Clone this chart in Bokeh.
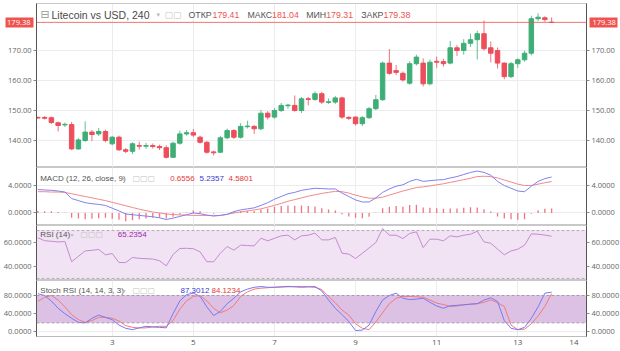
from bokeh.plotting import figure
from bokeh.layouts import column
from bokeh.models import (LinearAxis, FixedTicker, PrintfTickFormatter, Span, Label,
                          BoxAnnotation, ColumnDataSource, Range1d)
from bokeh.embed import file_html
from bokeh.resources import INLINE

# ---------------- data (4h candles, LTC/USD) ----------------
opens = [147.7, 147.7, 147.6, 145.9, 145.2, 145.3, 137.2, 140.0, 142.8, 142.2,
         143.0, 138.9, 141.1, 136.9, 136.4, 138.3, 138.1, 138.3, 138.0, 137.6,
         134.4, 139.1, 142.2, 142.6, 141.1, 139.4, 136.2, 136.1, 140.9, 143.3,
         141.1, 144.6, 144.7, 143.9, 149.1, 147.8, 150.0, 151.6, 151.7, 150.0,
         153.9, 153.7, 155.6, 152.7, 152.8, 154.2, 147.7, 147.8, 145.6, 147.6,
         150.6, 153.6, 165.8, 163.3, 162.4, 159.1, 165.6, 165.8, 158.9, 166.4,
         166.3, 165.8, 170.9, 170.0, 172.4, 173.6, 175.6, 170.9, 170.0, 165.8,
         161.3, 165.6, 166.9, 169.1, 180.6, 180.9, 179.41]
closes = [147.5, 147.4, 146.0, 145.0, 145.4, 137.2, 140.2, 142.8, 142.0, 143.0,
          140.0, 141.1, 136.9, 136.4, 138.9, 138.1, 138.3, 138.0, 137.6, 134.4,
          139.1, 142.2, 142.6, 141.8, 139.4, 136.1, 135.9, 140.9, 143.3, 141.1,
          144.7, 144.8, 143.9, 149.1, 147.8, 150.0, 151.7, 151.8, 150.0, 153.9,
          153.7, 155.6, 152.8, 152.9, 154.2, 147.8, 147.4, 145.6, 147.6, 150.6,
          153.6, 165.8, 162.4, 162.7, 160.2, 165.6, 167.8, 158.9, 166.1, 166.1,
          165.6, 170.9, 170.0, 172.4, 173.6, 175.6, 170.6, 169.1, 165.8, 161.3,
          165.6, 166.9, 169.1, 180.6, 181.1, 180.3, 179.38]
highs = [148.0, 148.1, 148.0, 146.3, 146.0, 146.2, 140.8, 146.4, 143.5, 144.2,
         143.6, 141.5, 141.6, 137.5, 139.4, 139.6, 139.2, 139.0, 138.6, 138.4,
         139.6, 143.3, 143.5, 143.8, 141.6, 139.8, 136.6, 141.5, 144.0, 143.8,
         145.8, 146.6, 145.2, 150.2, 149.8, 150.8, 152.5, 152.2, 155.0, 154.5,
         154.5, 156.4, 156.2, 154.0, 154.8, 154.6, 148.1, 148.0, 148.2, 151.2,
         155.2, 166.3, 170.5, 165.2, 163.0, 166.4, 168.6, 167.4, 167.0, 168.0,
         167.2, 173.2, 171.8, 173.8, 175.6, 176.6, 180.0, 173.0, 171.0, 166.0,
         166.2, 167.4, 170.0, 181.6, 182.4, 181.4, 181.04]
lows = [147.2, 147.0, 145.5, 143.0, 144.5, 136.8, 136.9, 139.5, 139.8, 141.5,
        139.4, 138.4, 136.5, 135.8, 135.5, 137.0, 137.2, 137.3, 136.8, 134.0,
        134.2, 138.6, 141.6, 141.2, 139.0, 135.6, 135.0, 135.8, 140.4, 140.5,
        140.6, 144.0, 142.2, 143.5, 147.0, 147.3, 149.5, 150.6, 149.6, 149.2,
        151.7, 153.2, 152.2, 152.2, 152.2, 147.2, 146.8, 145.0, 144.8, 147.2,
        150.1, 153.2, 161.9, 161.8, 159.6, 158.6, 165.0, 158.0, 158.4, 164.2,
        164.6, 165.4, 168.2, 168.6, 171.2, 167.0, 170.0, 166.0, 164.0, 160.4,
        160.8, 164.2, 166.3, 168.4, 179.8, 179.6, 179.31]

macd = [3.4, 3.35, 3.3, 3.2, 3.05, 2.1, 1.8, 1.5, 1.35, 1.25,
        1.1, 0.7, 0.3, -0.15, -0.25, -0.35, -0.45, -0.55, -0.7, -0.95,
        -0.75, -0.5, -0.25, 0.0, -0.1, -0.3, -0.45, -0.35, -0.2, 0.2,
        0.45, 0.6, 0.75, 1.1, 1.5, 2.0, 2.4, 2.8, 3.0, 3.3,
        3.45, 3.6, 3.55, 3.5, 3.5, 2.9, 2.4, 1.9, 1.6, 1.6,
        2.2, 3.0, 3.5, 3.9, 4.1, 4.6, 4.9, 4.6, 4.7, 4.8,
        4.85, 5.1, 5.3, 5.6, 5.9, 6.1, 5.9, 5.5, 4.6, 4.0,
        3.6, 3.2, 3.1, 3.9, 4.6, 5.0, 5.2357]
signal = [3.1, 3.1, 3.05, 3.05, 3.0, 2.8, 2.6, 2.4, 2.2, 2.0,
          1.8, 1.55, 1.3, 1.05, 0.8, 0.55, 0.35, 0.15, 0.0, -0.15,
          -0.22, -0.28, -0.32, -0.35, -0.35, -0.35, -0.36, -0.35, -0.2, 0.0,
          0.15, 0.3, 0.45, 0.6, 0.85, 1.1, 1.4, 1.7, 1.95, 2.2,
          2.45, 2.65, 2.85, 3.0, 3.15, 3.1, 2.9, 2.6, 2.35, 2.15,
          2.15, 2.3, 2.6, 2.9, 3.2, 3.45, 3.7, 3.8, 3.95, 4.1,
          4.25, 4.45, 4.65, 4.85, 5.05, 5.3, 5.35, 5.3, 5.1, 4.8,
          4.5, 4.2, 4.0, 4.0, 4.2, 4.4, 4.5801]
hist = [0.3, 0.25, 0.25, 0.15, 0.05, -0.7, -0.8, -0.9, -0.85, -0.75,
        -0.7, -0.85, -1.0, -1.2, -1.05, -0.9, -0.8, -0.7, -0.7, -0.8,
        -0.55, -0.22, 0.07, 0.35, 0.25, 0.05, -0.1, 0.0, 0.0, 0.2,
        0.3, 0.3, 0.3, 0.5, 0.65, 0.9, 1.0, 1.1, 1.05, 1.1,
        1.0, 0.95, 0.7, 0.5, 0.35, -0.2, -0.5, -0.7, -0.75, -0.55,
        0.05, 0.7, 0.9, 1.0, 0.9, 1.15, 1.2, 0.8, 0.75, 0.7,
        0.6, 0.65, 0.65, 0.75, 0.85, 0.8, 0.55, 0.2, -0.5, -0.8,
        -0.9, -1.0, -0.9, -0.1, 0.4, 0.6, 0.6556]
rsi = [64.0, 61.5, 61.0, 60.5, 60.8, 44.0, 48.5, 53.0, 53.5, 54.2,
       49.7, 50.8, 43.3, 43.3, 47.5, 46.8, 46.5, 46.2, 44.8, 40.5,
       50.0, 55.0, 55.2, 54.8, 52.2, 44.0, 43.9, 51.0, 56.7, 53.6,
       57.8, 57.5, 57.2, 63.6, 61.4, 63.5, 65.6, 66.1, 62.2, 65.6,
       66.1, 67.8, 62.2, 62.2, 64.2, 51.1, 50.3, 46.7, 51.0, 55.5,
       60.0, 71.7, 66.1, 66.1, 63.3, 67.5, 68.9, 55.8, 62.8, 62.8,
       61.4, 65.6, 64.7, 66.1, 66.9, 69.4, 60.5, 59.4, 54.5, 49.7,
       53.0, 54.4, 57.8, 67.2, 66.9, 66.2, 65.2354]
stoch_k = [84, 80, 68, 52, 40, 30, 21, 20, 30, 37,
           32, 27, 15, 8, 5, 9, 12.4, 11, 10, 9,
           40, 68, 82, 85, 78, 55, 36, 45, 62, 74,
           88, 94, 98, 99.6, 98, 98, 99, 100, 99, 98,
           99, 99.6, 90, 70, 52, 38, 23, 3, 4, 15,
           45, 70, 80, 85, 74, 71, 72, 74, 65, 57,
           52, 57.5, 58.5, 59.6, 61, 62, 70, 75, 67, 25,
           8, 5, 10, 30, 55, 85, 87.3012]
stoch_d = [67, 76, 80, 70, 55, 38, 27, 21, 25, 32,
           32, 30, 24, 14, 10, 8.7, 9, 11, 12.4, 12.4,
           25, 50, 68, 78, 80, 68, 52, 42, 48, 58,
           78, 88, 94, 96, 97, 98, 98.5, 99, 99.5, 99.6,
           99.2, 98, 93, 78, 64, 48, 37, 18, 8, 5,
           22, 42, 62, 74, 78, 77.8, 77, 76.4, 70, 63.3,
           60, 56, 57, 59.6, 61, 62, 65, 70.5, 64, 56,
           15, 5, 6, 18, 35, 56, 84.1234]

day_ticks = [11, 23, 35, 47, 59, 71, 79.3]
day_labels = ["3", "5", "7", "9", "11", "13", "14"]
grid_ticks = [11, 23, 35, 47, 59, 71]

last_price = 179.38

# ---------------- styling ----------------
FONT = "Open Sans"
HFONT = "Liberation Sans"
UP = "#3fae76"
DOWN = "#ec4e5c"
TAG = "#ef5350"
X0 = -0.2
PXU = 6.76          # pixels per candle
X1 = X0 + 550 / PXU
xr = Range1d(X0, X1)


def xd(px):
    """convert a pixel x position to the data x of the shared range"""
    return X0 + (px - 32) / PXU


def make_fig(frame_h, y0, y1, yticks, fmt, top=0, xaxis=False):
    p = figure(frame_width=550, frame_height=frame_h, x_range=xr,
               y_range=Range1d(y0, y1), output_backend="svg",
               toolbar_location=None,
               x_axis_location="below" if xaxis else None,
               y_axis_location="left",
               min_border_left=32, min_border_right=38,
               min_border_top=top, min_border_bottom=0)
    p.background_fill_color = "white"
    p.border_fill_color = "white"
    p.outline_line_color = "#c8c8c8"
    ra = LinearAxis()
    p.add_layout(ra, "right")
    for ax in p.yaxis:
        ax.ticker = FixedTicker(ticks=yticks)
        ax.formatter = PrintfTickFormatter(format=fmt)
        ax.major_label_text_font = FONT
        ax.major_label_text_font_size = "7.5px"
        ax.major_label_text_color = "#666666"
        ax.axis_line_color = "#555555"
        ax.major_tick_line_color = "#888888"
        ax.major_tick_out = 3
        ax.major_tick_in = 0
        ax.minor_tick_line_color = None
        ax.major_label_standoff = 2
    p.ygrid.ticker = FixedTicker(ticks=yticks)
    p.xgrid.ticker = FixedTicker(ticks=grid_ticks)
    p.xgrid.grid_line_color = "#ececec"
    p.ygrid.grid_line_color = "#ececec"
    if xaxis:
        xa = p.xaxis[0]
        xa.ticker = FixedTicker(ticks=day_ticks)
        xa.major_label_overrides = {t: l for t, l in zip(day_ticks, day_labels)}
        xa.major_label_text_font = FONT
        xa.major_label_text_font_size = "8px"
        xa.major_label_text_color = "#555555"
        xa.axis_line_color = "#bbbbbb"
        xa.major_tick_out = 0
        xa.major_tick_in = 0
        xa.minor_tick_line_color = None
        xa.major_label_standoff = 3
    return p


def lab(p, x, y, text, color, size="9px", font=HFONT, **kw):
    p.add_layout(Label(x=x, y=y, text=text, text_color=color, text_font=font,
                       text_font_size=size, text_baseline="middle",
                       text_align="left", **kw))


def price_tag_axis():
    """outer axis whose single tick is drawn inward as a red tag with white text"""
    ax = LinearAxis(ticker=FixedTicker(ticks=[last_price]),
                    formatter=PrintfTickFormatter(format="%.2f"))
    ax.axis_line_color = None
    ax.minor_tick_line_color = None
    ax.major_tick_out = 0
    ax.major_tick_in = 28
    ax.major_tick_line_width = 10
    ax.major_tick_line_color = TAG
    ax.major_tick_line_cap = "butt"
    ax.major_label_standoff = -25
    ax.major_label_text_color = "white"
    ax.major_label_text_font = FONT
    ax.major_label_text_font_size = "7.5px"
    return ax


# ---------------- main price pane ----------------
n = len(opens)
idx = list(range(n))
cols = [UP if c >= o else DOWN for o, c in zip(opens, closes)]
src = ColumnDataSource(dict(x=idx, o=opens, c=closes, h=highs, l=lows,
                            top=[max(o, c) for o, c in zip(opens, closes)],
                            bot=[min(o, c) for o, c in zip(opens, closes)],
                            col=cols))

main = make_fig(164, 131.0, 185.67, [140, 150, 160, 170], "%.2f", top=3)
main.add_layout(price_tag_axis(), "left")
main.add_layout(price_tag_axis(), "right")
main.segment(x0="x", y0="l", x1="x", y1="h", color="col", line_width=1,
             line_alpha=0.8, source=src)
main.vbar(x="x", top="top", bottom="bot", width=0.66, fill_color="col",
          line_color="col", line_width=1, source=src)
main.add_layout(Span(location=last_price, dimension="width", line_color=TAG,
                     line_width=1, line_alpha=0.8))

hy = 182.0
lab(main, xd(36), hy, "⊟", "#999999", size="11px", font="DejaVu Sans")
lab(main, xd(47), hy, "Litecoin vs USD, 240", "#4a4a4a", size="10.5px")
lab(main, xd(152), hy, "▾", "#bbbbbb", size="7px", font="DejaVu Sans")
lab(main, xd(160), hy, "▢▢", "#c4c4c4", size="9px", font="DejaVu Sans")
lab(main, xd(184), hy, "ОТКР", "#555555", size="8.8px")
lab(main, xd(208), hy, f"{opens[-1]:.2f}", TAG, size="8.8px")
lab(main, xd(243), hy, "МАКС", "#555555", size="8.8px")
lab(main, xd(267.5), hy, f"{highs[-1]:.2f}", TAG, size="8.8px")
lab(main, xd(301.7), hy, "МИН", "#555555", size="8.8px")
lab(main, xd(321.7), hy, f"{lows[-1]:.2f}", TAG, size="8.8px")
lab(main, xd(356.7), hy, "ЗАКР", "#555555", size="8.8px")
lab(main, xd(379), hy, f"{closes[-1]:.2f}", TAG, size="8.8px")

# ---------------- MACD pane ----------------
pm = make_fig(58, -1.82, 6.62, [0, 4], "%.4f")
pm.segment(x0=idx, y0=[0] * n, x1=idx, y1=hist, line_color="#f07482", line_width=1.3)
pm.line(idx, signal, line_color="#f08a8a", line_width=1)
pm.line(idx, macd, line_color="#8080f0", line_width=1)
my = 5.06
lab(pm, xd(35.7), my, "MACD (12, 26, close, 9)", "#555555", size="8px")
lab(pm, xd(118), my, "▾", "#bbbbbb", size="6px", font="DejaVu Sans")
lab(pm, xd(128), my, "▢▢▢", "#c4c4c4", size="8px", font="DejaVu Sans")
lab(pm, xd(165.7), my, f"{hist[-1]:.4f}", "#e53935", size="8px")
lab(pm, xd(195), my, f"{macd[-1]:.4f}", "#3a3ad0", size="8px")
lab(pm, xd(224), my, f"{signal[-1]:.4f}", "#e53935", size="8px")

# ---------------- RSI pane ----------------
pr = make_fig(55, 28.3, 74.2, [40, 60], "%.4f")
pr.add_layout(BoxAnnotation(bottom=30, top=70, fill_color="#f1e2f4", fill_alpha=1.0,
                            line_alpha=0, level="underlay"))
for lv in (70, 30):
    pr.add_layout(Span(location=lv, dimension="width", line_color="#b8a8bc",
                       line_dash="3 2", line_width=1))
pr.line(idx, rsi, line_color="#c48ccf", line_width=1)
ry = 66.9
lab(pr, xd(35.8), ry, "RSI (14)", "#555555", size="8px")
lab(pr, xd(66), ry, "▾", "#bbbbbb", size="6px", font="DejaVu Sans")
lab(pr, xd(76), ry, "▢▢▢", "#c4c4c4", size="8px", font="DejaVu Sans")
lab(pr, xd(113.3), ry, f"{rsi[-1]:.4f}", "#9c2aa8", size="8px")

# ---------------- Stoch RSI pane ----------------
ps = make_fig(56, -10.0, 112.9, [0, 40, 80], "%.4f", xaxis=True)
ps.add_layout(BoxAnnotation(bottom=20, top=80, fill_color="#dcc1e4", fill_alpha=1.0,
                            line_alpha=0, level="underlay"))
for lv in (80, 20):
    ps.add_layout(Span(location=lv, dimension="width", line_color="#a996ad",
                       line_dash="3 2", line_width=1))
ps.line(idx, stoch_d, line_color="#f07a7a", line_width=1)
ps.line(idx, stoch_k, line_color="#7878f2", line_width=1)
sy = 91.6
lab(ps, xd(35.8), sy, "Stoch RSI (14, 14, 3, 3)", "#555555", size="8px")
lab(ps, xd(118), sy, "▾", "#bbbbbb", size="6px", font="DejaVu Sans")
lab(ps, xd(128), sy, "▢▢▢", "#c4c4c4", size="8px", font="DejaVu Sans")
lab(ps, xd(176), sy, f"{stoch_k[-1]:.4f}", "#3a3ad0", size="8px")
lab(ps, xd(207), sy, f"{stoch_d[-1]:.4f}", "#e53935", size="8px")

layout = column(main, pm, pr, ps, spacing=0)
open("out.html", "w").write(file_html(layout, INLINE))
